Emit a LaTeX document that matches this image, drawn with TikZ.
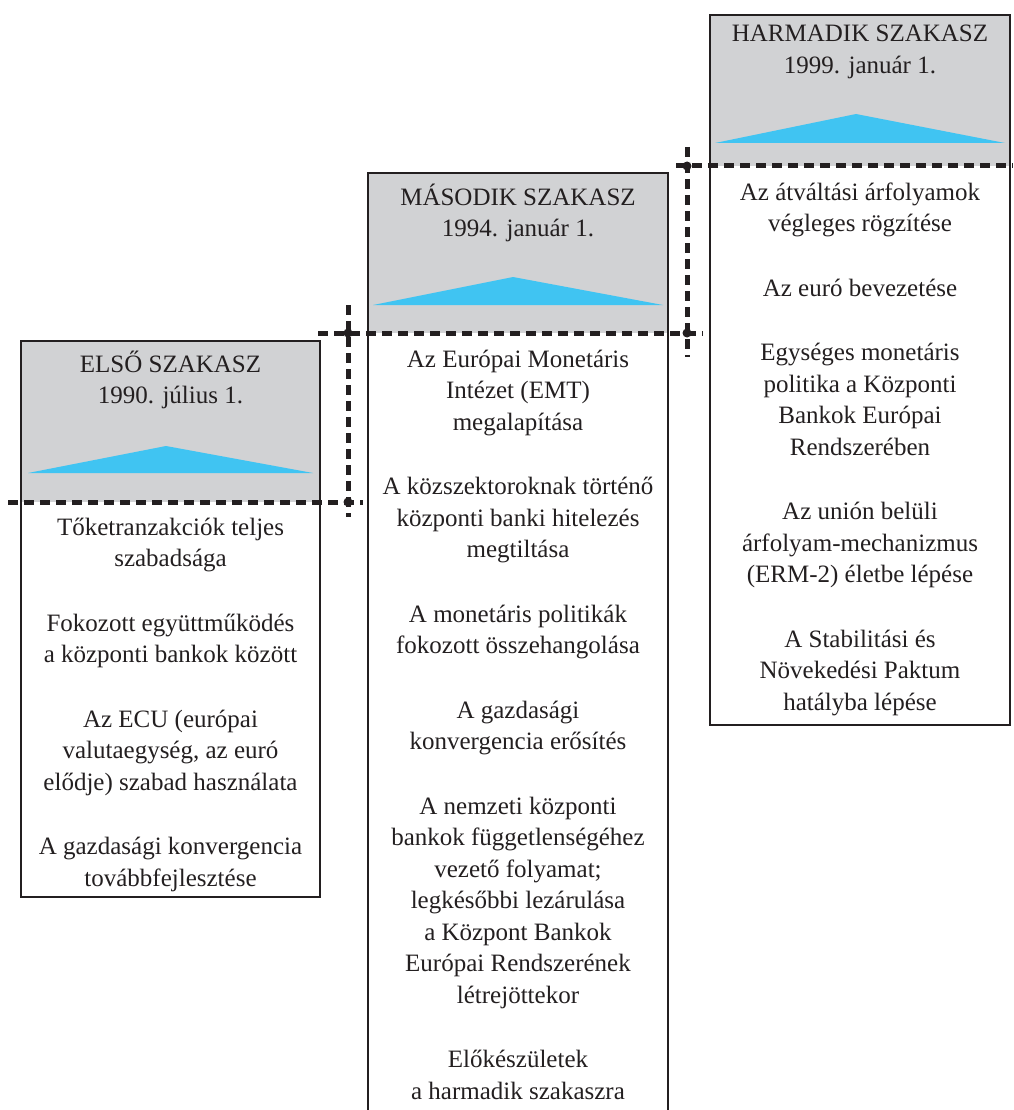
\documentclass[tikz,border=0pt]{standalone}
\usepackage{fontspec}
\setmainfont{Liberation Serif}
\definecolor{headgray}{RGB}{209,210,212}
\definecolor{peakblue}{RGB}{64,196,242}
\definecolor{inkdark}{RGB}{35,31,32}
\tikzset{
  stagebox/.style={draw=inkdark, line width=1.8pt},
  sepline/.style={draw=inkdark, line width=5pt, dash pattern=on 10pt off 6pt},
  stagetext/.style={align=center, inner sep=0pt, text=inkdark,
    font=\fontsize{25}{31.5}\selectfont},
}
\newcommand{\itemgap}{\\[33pt]}
\begin{document}
\begin{tikzpicture}[x=1pt, y=-1pt]
\clip (0,0) rectangle (1013,1110);
% first stage
\fill[headgray] (21,341) rectangle (320,502);
\fill[peakblue] (28,473) -- (166,446) -- (313,473) -- cycle;
\draw[stagebox] (21,341) rectangle (320,897);
\node[stagetext] (head1) at (170.5,380) {ELSŐ SZAKASZ\\1990. július 1.};
\node[stagetext, anchor=north] (body1) at (170.5,513) {\strut Tőketranzakciók teljes\\szabadsága\itemgap
  Fokozott együttműködés\\a központi bankok között\itemgap
  Az ECU (európai\\valutaegység, az euró\\elődje) szabad használata\itemgap
  A gazdasági konvergencia\\továbbfejlesztése};
% second stage
\fill[headgray] (368,173) rectangle (668,333);
\fill[peakblue] (373,305) -- (513,277) -- (663,305) -- cycle;
\draw[stagebox] (368,173) rectangle (668,1130);
\node[stagetext] (head2) at (518,213) {MÁSODIK SZAKASZ\\1994. január 1.};
\node[stagetext, anchor=north] (body2) at (518,345) {\strut Az Európai Monetáris\\Intézet (EMT)\\megalapítása\itemgap
  A közszektoroknak történő\\központi banki hitelezés\\megtiltása\itemgap
  A monetáris politikák\\fokozott összehangolása\itemgap
  A gazdasági\\konvergencia erősítés\itemgap
  A nemzeti központi\\bankok függetlenségéhez\\vezető folyamat;\\legkésőbbi lezárulása\\a Központ Bankok\\Európai Rendszerének\\létrejöttekor\itemgap
  Előkészületek\\a harmadik szakaszra};
% third stage
\fill[headgray] (710,15) rectangle (1010,166);
\fill[peakblue] (715,143) -- (856,114) -- (1005,143) -- cycle;
\draw[stagebox] (710,15) rectangle (1010,725);
\node[stagetext] (head3) at (860,52) {HARMADIK SZAKASZ\\1999. január 1.};
\node[stagetext, anchor=north] (body3) at (860,178) {\strut Az átváltási árfolyamok\\végleges rögzítése\itemgap
  Az euró bevezetése\itemgap
  Egységes monetáris\\politika a Központi\\Bankok Európai\\Rendszerében\itemgap
  Az unión belüli\\árfolyam-mechanizmus\\(ERM-2) életbe lépése\itemgap
  A Stabilitási és\\Növekedési Paktum\\hatályba lépése};
% dashed steps
\coordinate (h1a) at (8,502);    \coordinate (h1b) at (363,502);
\coordinate (h2a) at (318,333);  \coordinate (h2b) at (703,333);
\coordinate (h3a) at (676,166);  \coordinate (h3b) at (1013,166);
\coordinate (v1a) at (348,305);  \coordinate (v1b) at (348,517);
\coordinate (v2a) at (687,147);  \coordinate (v2b) at (687,357);
\draw[sepline] (h1a) -- (h1b);
\draw[sepline] (h2a) -- (h2b);
\draw[sepline] (h3a) -- (h3b);
\draw[sepline] (v1a) -- (v1b);
\draw[sepline] (v2a) -- (v2b);
\foreach \p in {(348,502), (348,333), (687,333), (687,166)}
  \fill[inkdark] \p circle (4.5pt);
\end{tikzpicture}
\end{document}
